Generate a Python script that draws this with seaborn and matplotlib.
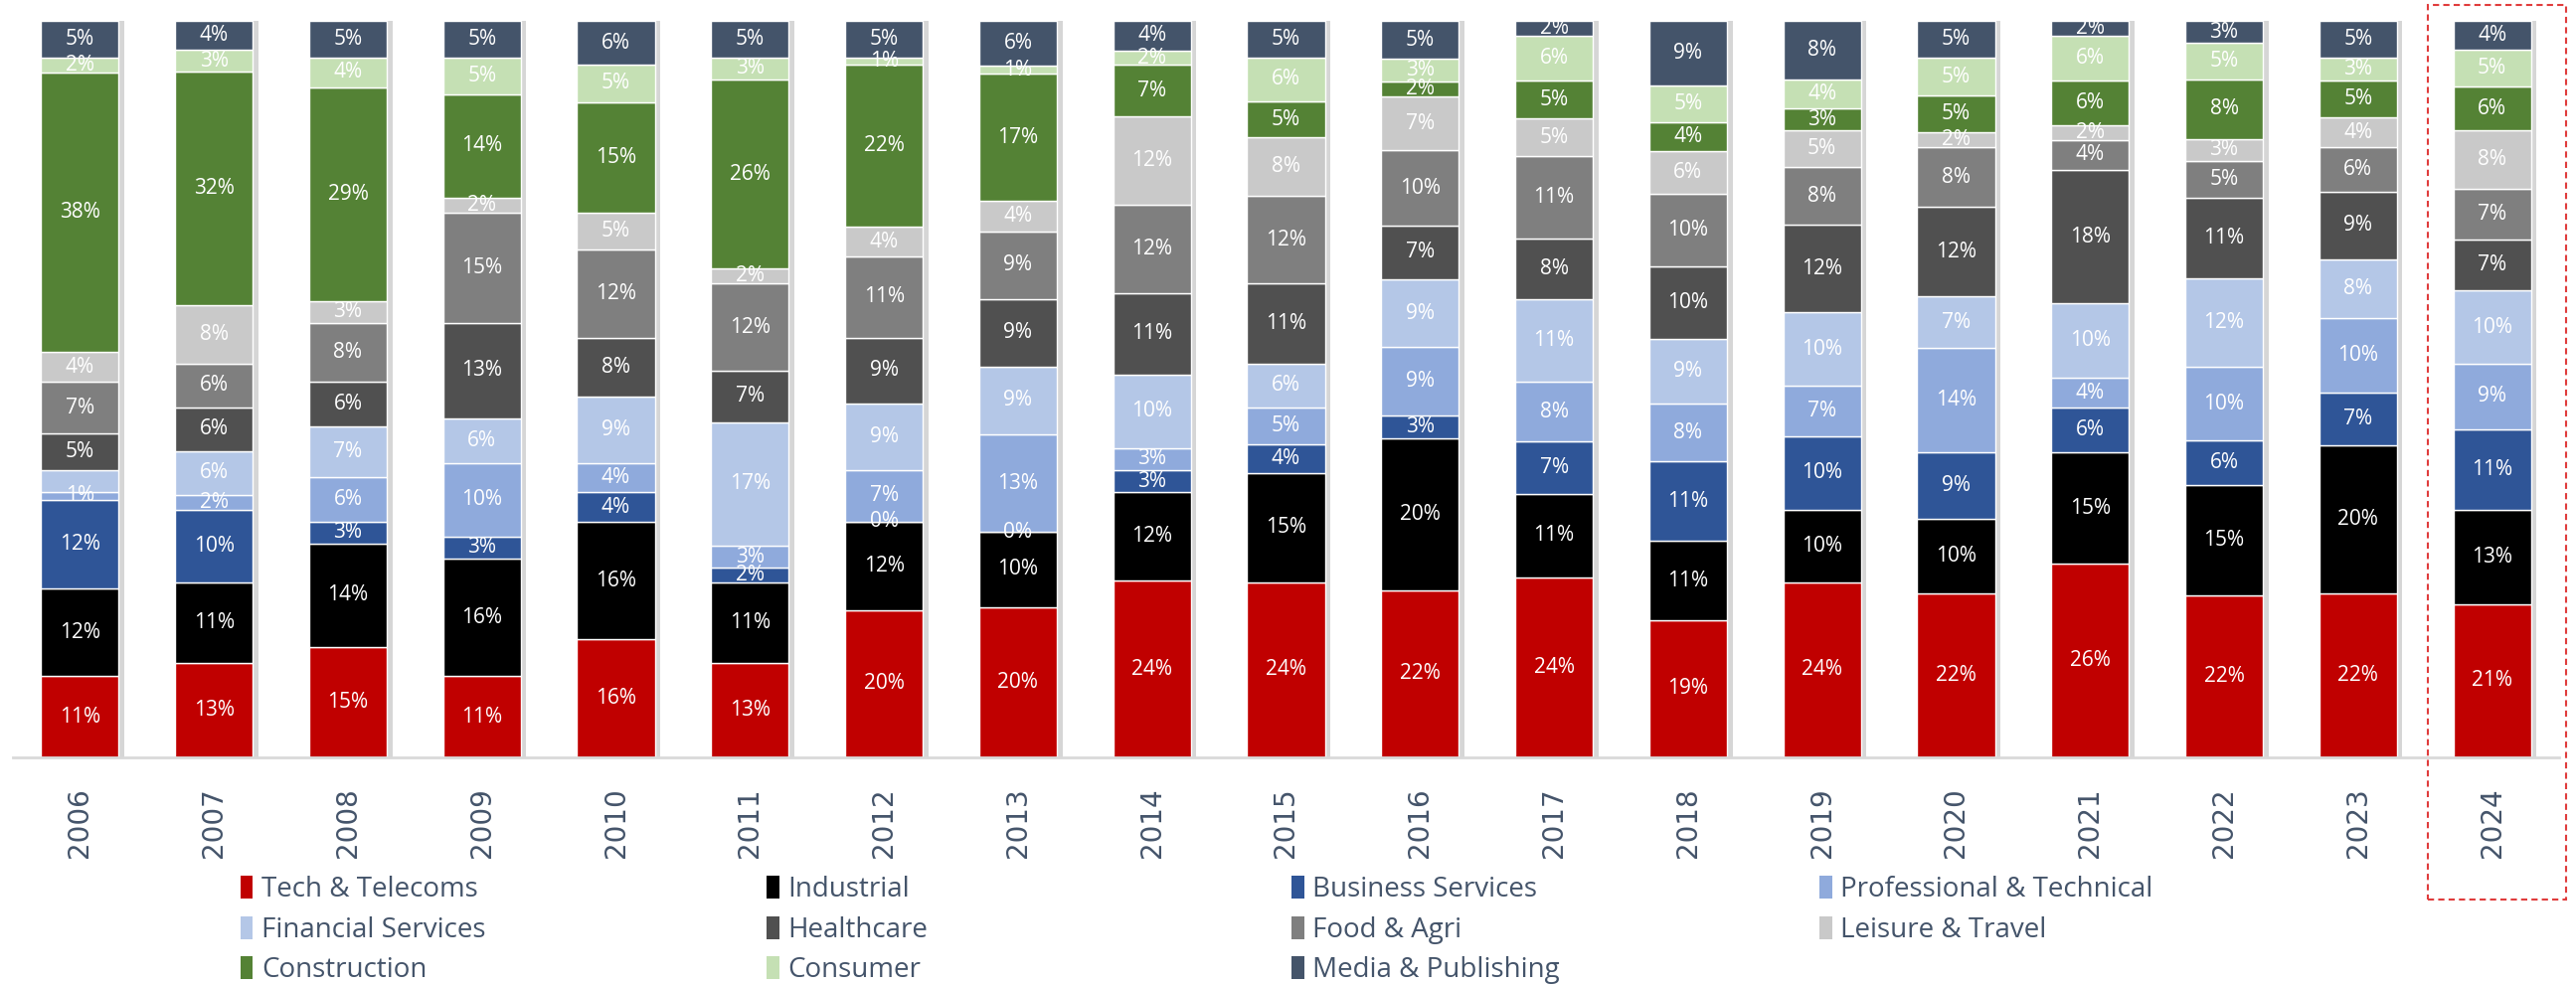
import numpy as np
import pandas as pd
import matplotlib
matplotlib.use('Agg')
import matplotlib.pyplot as plt
import matplotlib.patheffects as pe
from matplotlib.patches import Rectangle, Patch
import seaborn as sns

# data (share of deals per sector, % as shown on the labels)
years = [str(y) for y in range(2006, 2025)]
sectors = ['Tech & Telecoms', 'Industrial', 'Business Services', 'Professional & Technical',
           'Financial Services', 'Healthcare', 'Food & Agri', 'Leisure & Travel',
           'Construction', 'Consumer', 'Media & Publishing']
tech = [11, 13, 15, 11, 16, 13, 20, 20, 24, 24, 22, 24, 19, 24, 22, 26, 22, 22, 21]
industrial = [12, 11, 14, 16, 16, 11, 12, 10, 12, 15, 20, 11, 11, 10, 10, 15, 15, 20, 13]
business = [12, 10, 3, 3, 4, 2, 0, 0, 3, 4, 3, 7, 11, 10, 9, 6, 6, 7, 11]
professional = [1, 2, 6, 10, 4, 3, 7, 13, 3, 5, 9, 8, 8, 7, 14, 4, 10, 10, 9]
financial = [3, 6, 7, 6, 9, 17, 9, 9, 10, 6, 9, 11, 9, 10, 7, 10, 12, 8, 10]
healthcare = [5, 6, 6, 13, 8, 7, 9, 9, 11, 11, 7, 8, 10, 12, 12, 18, 11, 9, 7]
food = [7, 6, 8, 15, 12, 12, 11, 9, 12, 12, 10, 11, 10, 8, 8, 4, 5, 6, 7]
leisure = [4, 8, 3, 2, 5, 2, 4, 4, 12, 8, 7, 5, 6, 5, 2, 2, 3, 4, 8]
construction = [38, 32, 29, 14, 15, 26, 22, 17, 7, 5, 2, 5, 4, 3, 5, 6, 8, 5, 6]
consumer = [2, 3, 4, 5, 5, 3, 1, 1, 2, 6, 3, 6, 5, 4, 5, 6, 5, 3, 5]
media = [5, 4, 5, 5, 6, 5, 5, 6, 4, 5, 5, 2, 9, 8, 5, 2, 3, 5, 4]

values = [tech, industrial, business, professional, financial, healthcare,
          food, leisure, construction, consumer, media]
colors = ['#C00000', '#000000', '#2F5597', '#8FAADC', '#B4C7E7', '#505050',
          '#7F7F7F', '#C9C9C9', '#548235', '#C5E0B4', '#44546A']

sns.set_theme(style='white')
plt.rcParams['font.family'] = ['Open Sans', 'DejaVu Sans']

fig = plt.figure(figsize=(25.91, 9.91), dpi=100)
ax = fig.add_axes([13 / 2591, 1 - 762 / 991, 2561 / 2591, 741 / 991])

# 100% stacked -> normalise each year like excel does
totals = np.array(values).sum(axis=0)
bottom = np.zeros(len(years))
shadow = [pe.SimplePatchShadow(offset=(4, 0), shadow_rgbFace='#A6A6A6', alpha=0.45), pe.Normal()]
for name, vals, col in zip(sectors, values, colors):
    share = np.array(vals) / totals * 100
    sns.barplot(x=years, y=share, bottom=bottom, color=col, width=0.58,
                saturation=1, errorbar=None, ax=ax)
    cont = ax.containers[-1]
    for p in cont.patches:
        p.set_path_effects(shadow)
    labels = [f'{v}%' for v in vals]
    if name == 'Financial Services':
        labels[0] = ''  # hidden in the original (clashes with the 1% label)
    ax.bar_label(cont, labels=labels, label_type='center', color='white', fontsize=15)
    bottom += share

ax.set_xlim(-0.5, 18.5)
ax.set_ylim(0, 100)
ax.set_yticks([])
ax.set_xlabel('')
ax.set_ylabel('')
for s in ['top', 'left', 'right']:
    ax.spines[s].set_visible(False)
ax.spines['bottom'].set_color('#D9D9D9')
ax.spines['bottom'].set_linewidth(2)
ax.tick_params(axis='x', length=0, pad=22)
for t in ax.get_xticklabels():
    t.set_rotation(90)
    t.set_fontfamily('DejaVu Sans')
    t.set_fontsize(20)
    t.set_color('#44546A')

# legend, laid out in rows like the original (4 columns)
handles = [Patch(facecolor=c, edgecolor='none') for c in colors]
col_x = [242, 771, 1299, 1830]
for j in range(4):
    idx = list(range(j, len(sectors), 4))
    fig.legend([handles[i] for i in idx], [sectors[i] for i in idx],
               loc='upper left', bbox_to_anchor=(col_x[j] / 2591, 1 - 881 / 991),
               frameon=False, fontsize=20, handlelength=0.45, handleheight=0.9,
               handletextpad=0.3, labelspacing=0.45, borderpad=0, borderaxespad=0,
               labelcolor='#44546A')

# dashed highlight round 2024
fig.patches.append(Rectangle((2442 / 2591, 1 - 905 / 991), 139 / 2591, 900 / 991,
                             transform=fig.transFigure, fill=False, edgecolor='#E03C3C',
                             linestyle=(0, (3, 2)), linewidth=1.5))

fig.savefig('out.png', dpi=100)
